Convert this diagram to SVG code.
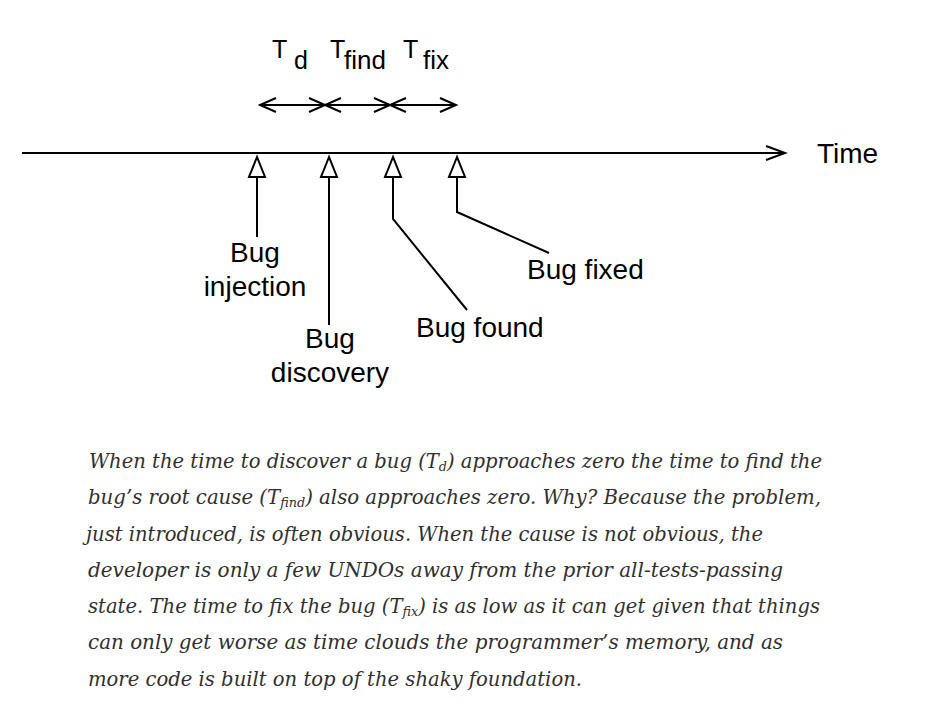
<svg xmlns="http://www.w3.org/2000/svg" width="925" height="717" viewBox="0 0 925 717">
<style>
.ln{fill:none;stroke:#000;stroke-width:2;stroke-linejoin:miter}
.tri{fill:#fff;stroke:#000;stroke-width:2;stroke-linejoin:miter}
.lbl{font-family:"Liberation Sans",Arial,sans-serif;font-size:28px;fill:#000}
.cap{font-family:"DejaVu Serif",Georgia,serif;font-style:italic;font-size:20px;fill:#303030}
</style>
<rect width="925" height="717" fill="#fff"/>
<g id="connectors">
  <path class="ln" d="M22,153 H784"/>
  <path class="ln" d="M766,146 L785,153 L766,160"/>
  <path class="ln" d="M260,105 H456"/>
  <path class="ln" d="M276,98 L260,105 L276,112"/>
  <path class="ln" d="M309,98 L325,105 L309,112 M341,98 L325,105 L341,112"/>
  <path class="ln" d="M374,98 L390,105 L374,112 M406,98 L390,105 L406,112"/>
  <path class="ln" d="M440,98 L456,105 L440,112"/>
  <path class="ln" d="M257,177 V237"/>
  <polygon class="tri" points="257,157 249,177 265,177"/>
  <path class="ln" d="M329,177 V325"/>
  <polygon class="tri" points="329,157 321,177 337,177"/>
  <path class="ln" d="M393,177 V219 L467,310"/>
  <polygon class="tri" points="393,157 385,177 401,177"/>
  <path class="ln" d="M457,177 V212 L549,253"/>
  <polygon class="tri" points="457,157 449,177 465,177"/>
</g>
<g id="time"><text class="lbl" x="817" y="163">Time</text></g>
<g id="td"><text class="lbl" x="272" y="58" style="font-size:25px">T</text><text class="lbl" x="294" y="69" style="font-size:25px">d</text></g>
<g id="tfind"><text class="lbl" x="330" y="58" style="font-size:25px">T</text><text class="lbl" x="344" y="69" style="font-size:26px">find</text></g>
<g id="tfix"><text class="lbl" x="403" y="58" style="font-size:25px">T</text><text class="lbl" x="423" y="69" style="font-size:26px">fix</text></g>
<g id="injection"><text class="lbl" text-anchor="middle" x="255" y="262">Bug</text><text class="lbl" text-anchor="middle" x="255" y="296">injection</text></g>
<g id="discovery"><text class="lbl" text-anchor="middle" x="330" y="348">Bug</text><text class="lbl" text-anchor="middle" x="330" y="382">discovery</text></g>
<g id="found"><text class="lbl" x="416" y="337">Bug found</text></g>
<g id="fixed"><text class="lbl" x="527" y="279">Bug fixed</text></g>
<g id="caption">
  <text class="cap" x="89" y="468" textLength="733" lengthAdjust="spacingAndGlyphs">When the time to discover a bug (T<tspan font-size="13" baseline-shift="-3">d</tspan>) approaches zero the time to find the</text>
  <text class="cap" x="88" y="504" textLength="733" lengthAdjust="spacingAndGlyphs">bug’s root cause (T<tspan font-size="13" baseline-shift="-3">find</tspan>) also approaches zero. Why? Because the problem,</text>
  <text class="cap" x="86" y="541" textLength="677" lengthAdjust="spacingAndGlyphs">just introduced, is often obvious. When the cause is not obvious, the</text>
  <text class="cap" x="88" y="577" textLength="695" lengthAdjust="spacingAndGlyphs">developer is only a few UNDOs away from the prior all-tests-passing</text>
  <text class="cap" x="88" y="613" textLength="732" lengthAdjust="spacingAndGlyphs">state. The time to fix the bug (T<tspan font-size="13" baseline-shift="-3">fix</tspan>) is as low as it can get given that things</text>
  <text class="cap" x="88" y="649" textLength="695" lengthAdjust="spacingAndGlyphs">can only get worse as time clouds the programmer’s memory, and as</text>
  <text class="cap" x="88" y="686" textLength="494" lengthAdjust="spacingAndGlyphs">more code is built on top of the shaky foundation.</text>
</g>
</svg>
